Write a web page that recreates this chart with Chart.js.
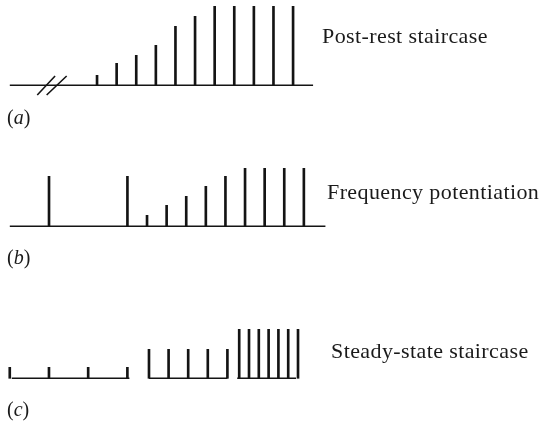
<!DOCTYPE html>
<html>
<head>
<meta charset="utf-8">
<script src="https://cdn.jsdelivr.net/npm/chart.js@4/dist/chart.umd.min.js"></script>
<style>
body { margin: 0; background: #fff; }
#wrap { position: relative; width: 544px; height: 422px; overflow: hidden; }
canvas { position: absolute; left: 0; }
.lbl { position: absolute; font-family: "Liberation Serif", "DejaVu Serif", serif; color: #1a1a1a; white-space: nowrap; line-height: 1; }
.name { font-size: 22px; letter-spacing: 0.4px; }
.tag { font-size: 20px; left: 7px; }
</style>
</head>
<body>
<div id="wrap">
  <canvas id="pa" width="544" height="110" style="top:0px"></canvas>
  <canvas id="pb" width="544" height="110" style="top:141px"></canvas>
  <canvas id="pc" width="544" height="110" style="top:293px"></canvas>
  <div class="lbl name" style="left:322px; top:25px">Post-rest staircase</div>
  <div class="lbl name" style="left:327px; top:181px">Frequency potentiation</div>
  <div class="lbl name" style="left:331px; top:340px">Steady-state staircase</div>
  <div class="lbl tag" style="top:107px">(<i>a</i>)</div>
  <div class="lbl tag" style="top:247px">(<i>b</i>)</div>
  <div class="lbl tag" style="top:399px">(<i>c</i>)</div>
</div>
<script>
// time in beat intervals, amplitude in arbitrary units
var timeA = [4.45, 5.45, 6.45, 7.45, 8.45, 9.45, 10.45, 11.45, 12.45, 13.45, 14.45];
var forceA = [1.0, 2.2, 3.0, 4.0, 5.9, 6.9, 7.9, 7.9, 7.9, 7.9, 7.9];
var baseA = [0, 15.47];
var breakA = [[1.40, -0.97], [2.31, 0.93], [1.88, -0.97], [2.90, 0.93]];

var timeB = [2, 6, 7, 8, 9, 10, 11, 12, 13, 14, 15];
var forceB = [5.0, 5.0, 1.1, 2.1, 3.0, 4.0, 5.0, 5.8, 5.8, 5.8, 5.8];
var baseB = [0, 16.1];

var timeC1 = [0.1, 2.1, 4.1, 6.1];
var forceC1 = [1.1, 1.1, 1.1, 1.1];
var timeC2 = [7.1, 8.1, 9.1, 10.1, 11.1];
var forceC2 = [2.9, 2.9, 2.9, 2.9, 2.9];
var timeC3 = [11.6, 12.1, 12.6, 13.1, 13.6, 14.1, 14.6];
var forceC3 = [4.9, 4.9, 4.9, 4.9, 4.9, 4.9, 4.9];

var ink = "#141414";

function pts(xs, ys) {
	var out = [];
	for (var i = 0; i < xs.length; i++) out.push({x: xs[i], y: ys[i]});
	return out;
}

function spikes(xs, ys) {
	return {
		type: "bar",
		data: pts(xs, ys),
		backgroundColor: ink,
		borderWidth: 0,
		barThickness: 2
	};
}

function flat(x0, x1) {
	return {
		type: "line",
		data: [{x: x0, y: 0}, {x: x1, y: 0}],
		borderColor: ink,
		borderWidth: 1.6,
		pointRadius: 0,
		fill: false
	};
}

function panel(id, sets) {
	return new Chart(document.getElementById(id), {
		type: "bar",
		data: { datasets: sets },
		options: {
			responsive: false,
			animation: false,
			devicePixelRatio: 1,
			layout: { padding: 0 },
			plugins: { legend: { display: false }, tooltip: { enabled: false } },
			scales: {
				x: { type: "linear", offset: false, min: -0.5, max: 27.25, display: false },
				y: { min: -2.47, max: 8.53, display: false }
			}
		}
	});
}

var slash = [
	{x: breakA[0][0], y: breakA[0][1]}, {x: breakA[1][0], y: breakA[1][1]},
	{x: 2.5, y: null},
	{x: breakA[2][0], y: breakA[2][1]}, {x: breakA[3][0], y: breakA[3][1]}
];

panel("pa", [
	flat(baseA[0], baseA[1]),
	{ type: "line", data: slash, borderColor: ink, borderWidth: 1.6, pointRadius: 0, spanGaps: false },
	spikes(timeA, forceA)
]);

panel("pb", [
	flat(baseB[0], baseB[1]),
	spikes(timeB, forceB)
]);

panel("pc", [
	flat(timeC1[0], timeC1[timeC1.length - 1]),
	flat(timeC2[0], timeC2[timeC2.length - 1]),
	flat(timeC3[0], timeC3[timeC3.length - 1]),
	spikes(timeC1, forceC1),
	spikes(timeC2, forceC2),
	spikes(timeC3, forceC3)
]);
</script>
</body>
</html>
